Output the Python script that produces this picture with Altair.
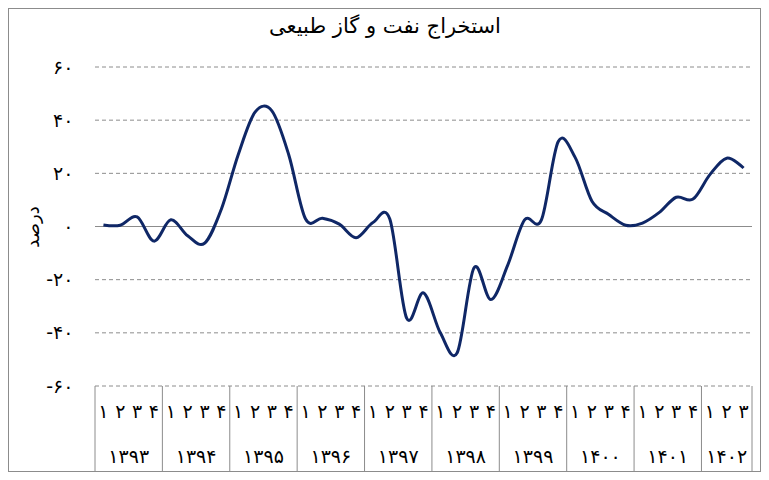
import altair as alt
import pandas as pd

# ---- data ----
years = ["۱۳۹۳", "۱۳۹۴", "۱۳۹۵", "۱۳۹۶", "۱۳۹۷", "۱۳۹۸", "۱۳۹۹", "۱۴۰۰", "۱۴۰۱", "۱۴۰۲"]
quarters_per_year = [4, 4, 4, 4, 4, 4, 4, 4, 4, 3]
quarter_labels = ["۱", "۲", "۳", "۴"]
values = [
    0.6, 0.5, 3.6, -5.5,      # 1393
    2.5, -3.5, -6.3, 6.5,     # 1394
    27, 43, 43.5, 27,         # 1395
    2.8, 3.1, 0.9, -4.2,      # 1396
    1.5, 2.8, -34.5, -25,     # 1397
    -40, -47.5, -15.5, -27.5, # 1398
    -14.5, 2.5, 2.5, 32,      # 1399
    26, 9.5, 4.5, 0.5,        # 1400
    1.3, 5.3, 11, 10.3,       # 1401
    19.5, 25.7, 22,           # 1402
]
y_ticks = [-60, -40, -20, 0, 20, 40, 60]
y_tick_labels = ["-۶۰", "-۴۰", "-۲۰", "۰", "۲۰", "۴۰", "۶۰"]
title_text = "استخراج نفت و گاز طبیعی"
y_title = "درصد"

# ---- tables ----
rows, qrows, yrows, seps = [], [], [], [-0.5]
i = 0
for y, n in zip(years, quarters_per_year):
    start = i
    for q in range(n):
        rows.append({"idx": i, "value": values[i]})
        qrows.append({"idx": i, "q": quarter_labels[q]})
        i += 1
    yrows.append({"idx": (start + i - 1) / 2, "year": y})
    seps.append(i - 0.5)

df = pd.DataFrame(rows)
qdf = pd.DataFrame(qrows)
ydf = pd.DataFrame(yrows)
sdf = pd.DataFrame({"idx": seps})
grid_df = pd.DataFrame({"v": [t for t in y_ticks if t != 0]})
zero_df = pd.DataFrame({"v": [0]})

W, H = 657, 319
FONT = "DejaVu Sans"
n_total = len(values)
xscale = alt.Scale(domain=[-0.5, n_total - 0.5], nice=False, zero=False)
yscale = alt.Scale(domain=[-60, 60], nice=False)

label_expr = " : ".join(
    f"datum.value == {v} ? '{l}'" for v, l in zip(y_ticks, y_tick_labels)
) + " : ''"

yaxis = alt.Axis(values=y_ticks, labelExpr=label_expr, grid=False, ticks=False,
                 domain=False, labelPadding=22, labelFontSize=19, labelFont=FONT,
                 labelColor="#000000", title=y_title, titleFont=FONT, titleFontSize=18,
                 titleFontWeight="normal", titleColor="#000000", titleX=-62, titleY=H / 2,
                 titleAngle=270, titleAlign="center", titleBaseline="middle")

grid = alt.Chart(grid_df).mark_rule(color="#8c8c8c", strokeDash=[4, 3], strokeWidth=1).encode(
    y=alt.Y("v:Q", scale=yscale, axis=yaxis),
    x=alt.value(0), x2=alt.value(W),
)

zero = alt.Chart(zero_df).mark_rule(color="#8c8c8c", strokeWidth=1).encode(
    y=alt.Y("v:Q", scale=yscale, axis=yaxis), x=alt.value(0), x2=alt.value(W),
)

line = alt.Chart(df).mark_line(color="#0f2766", strokeWidth=3, interpolate="cardinal").encode(
    x=alt.X("idx:Q", scale=xscale, axis=None),
    y=alt.Y("value:Q", scale=yscale, axis=yaxis),
)

seps_layer = alt.Chart(sdf).mark_rule(color="#8c8c8c", strokeWidth=1).encode(
    x=alt.X("idx:Q", scale=xscale, axis=None), y=alt.value(H), y2=alt.value(H + 87),
)

qtext = alt.Chart(qdf).mark_text(font=FONT, fontSize=19, color="#000000", baseline="middle").encode(
    x=alt.X("idx:Q", scale=xscale, axis=None), y=alt.value(H + 26), text="q:N",
)

ytext = alt.Chart(ydf).mark_text(font=FONT, fontSize=19, color="#000000", baseline="middle").encode(
    x=alt.X("idx:Q", scale=xscale, axis=None), y=alt.value(H + 71), text="year:N",
)

title_layer = alt.Chart(pd.DataFrame({"t": [title_text]})).mark_text(
    font=FONT, fontSize=21, color="#000000", baseline="middle", align="center"
).encode(x=alt.value(290), y=alt.value(-40), text="t:N")

bcol = "#8c8c8c"
b_top = alt.Chart(zero_df).mark_rule(color=bcol, strokeWidth=1).encode(
    x=alt.value(-87), x2=alt.value(666), y=alt.value(-58.5))
b_bot = alt.Chart(zero_df).mark_rule(color=bcol, strokeWidth=1).encode(
    x=alt.value(-87), x2=alt.value(666), y=alt.value(404.5))
b_left = alt.Chart(zero_df).mark_rule(color=bcol, strokeWidth=1).encode(
    x=alt.value(-86.5), y=alt.value(-59), y2=alt.value(405))
b_right = alt.Chart(zero_df).mark_rule(color=bcol, strokeWidth=1).encode(
    x=alt.value(665.5), y=alt.value(-59), y2=alt.value(405))

chart = alt.layer(
    grid, zero, seps_layer, line, qtext, ytext, title_layer, b_top, b_bot, b_left, b_right
).properties(
    width=W, height=H,
    autosize=alt.AutoSizeParams(type="none"),
    padding={"left": 87, "top": 59, "right": 9, "bottom": 86},
    background="#ffffff",
).configure_view(stroke=None)

chart.save("out.html", embed_options={"renderer": "svg", "actions": False})
